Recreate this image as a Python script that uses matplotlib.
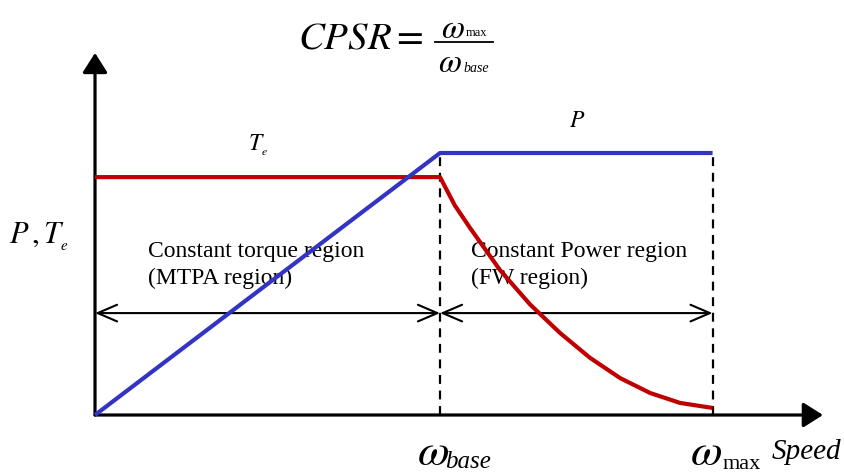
import matplotlib.pyplot as plt

plt.rcParams['mathtext.fontset'] = 'stix'
plt.rcParams['font.family'] = 'Liberation Serif'

# base and maximum speed (normalised to base speed)
w_base = 1.0
w_max = 1.79

# power curve: rises to rated power at base speed, then stays constant
power_speed = [0.0, w_base, w_max]
power_vals = [0.0, 1.0, 1.0]

# torque curve: constant up to base speed, then falls in field weakening
torque_speed = [0.0, 1.0, 1.043, 1.087, 1.174, 1.261, 1.348, 1.435, 1.522, 1.609, 1.696, 1.79]
torque_vals = [0.908, 0.908, 0.800, 0.714, 0.553, 0.422, 0.313, 0.218, 0.141, 0.084, 0.046, 0.027]

region_arrow_level = 0.389

fig = plt.figure(figsize=(8.44, 4.75), dpi=100)
ax = fig.add_axes([0, 0, 1, 1])
ax.set_xlim(-0.2754, 2.1710)
ax.set_ylim(-0.2290, 1.5840)
ax.axis('off')

# axes with arrow heads
axis_arrow = dict(arrowstyle='-|>,head_length=0.6,head_width=0.38', lw=2.3,
                  color='black', mutation_scale=20, shrinkA=0, shrinkB=0)
ax.annotate('', xy=(2.11, 0), xytext=(0, 0), arrowprops=axis_arrow)
ax.annotate('', xy=(0, 1.382), xytext=(0, 0), arrowprops=axis_arrow)

# dashed markers at base and max speed
ax.plot([w_base, w_base], [0, 1.0], color='black', lw=1.6, ls=(0, (4, 3)))
ax.plot([w_max, w_max], [0, 1.0], color='black', lw=1.6, ls=(0, (4, 3)))

# region arrows
region_arrow = dict(arrowstyle='<->,head_length=0.7,head_width=0.3', lw=1.5,
                    color='black', mutation_scale=20, shrinkA=0, shrinkB=0)
ax.annotate('', xy=(0, region_arrow_level), xytext=(w_base, region_arrow_level),
            arrowprops=region_arrow)
ax.annotate('', xy=(w_base, region_arrow_level), xytext=(w_max, region_arrow_level),
            arrowprops=region_arrow)

ax.text(0.154, 0.663, 'Constant torque region\n(MTPA region)', fontsize=17,
        va='top', ha='left', linespacing=1.35)
ax.text(1.09, 0.663, 'Constant Power region\n(FW region)', fontsize=17,
        va='top', ha='left', linespacing=1.35)

ax.plot(torque_speed, torque_vals, color='#c00000', lw=3, solid_capstyle='butt',
        solid_joinstyle='round', zorder=4)
ax.plot(power_speed, power_vals, color='#3333c4', lw=3, solid_capstyle='butt', zorder=5)

# CPSR formula at the top
ax.text(0.951, 1.435, r'$CPSR=$', fontsize=28, ha='right', va='center')
ax.plot([0.986, 1.154], [1.424, 1.424], color='black', lw=1.3)
ax.text(1.072, 1.439, r'$\omega$', fontsize=24, ha='right', va='baseline')
ax.text(1.075, 1.447, 'max', fontsize=9, ha='left', va='baseline')
ax.text(1.064, 1.309, r'$\omega$', fontsize=24, ha='right', va='baseline')
ax.text(1.067, 1.309, 'base', fontsize=10, style='italic', ha='left', va='baseline')

# axis and curve labels
ax.text(-0.25, 0.68, r'$P\,,T_{_e}$', fontsize=22, ha='left', va='center')
ax.text(0.472, 1.03, r'$T_{_e}$', fontsize=17, ha='center', va='center')
ax.text(1.397, 1.12, r'$P$', fontsize=17, ha='center', va='center')

ax.text(0.933, -0.191, r'$\omega$', fontsize=33, ha='left', va='baseline')
ax.text(1.016, -0.203, 'base', fontsize=18, style='italic', ha='left', va='baseline')
ax.text(1.725, -0.191, r'$\omega$', fontsize=33, ha='left', va='baseline')
ax.text(1.82, -0.205, 'max', fontsize=16, ha='left', va='baseline')
ax.text(1.962, -0.14, 'Speed', fontsize=21, style='italic', ha='left', va='center')

fig.savefig('out.png', dpi=100)
